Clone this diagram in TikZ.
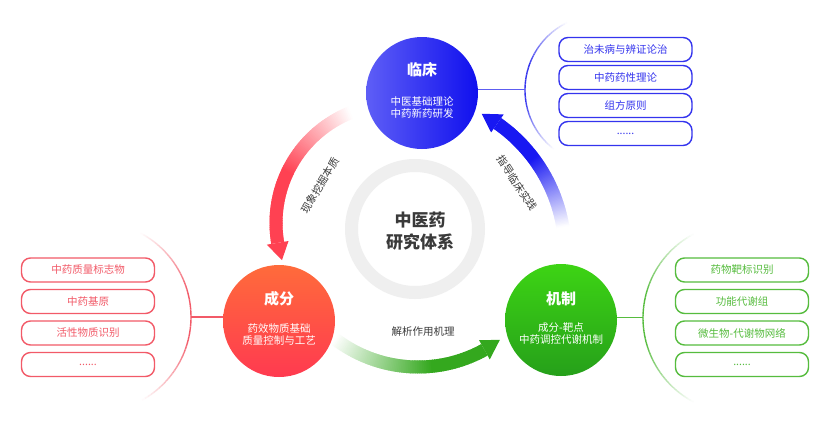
\documentclass[tikz,border=0pt]{standalone}
\usepackage{fontspec}
\newfontfamily\cjk{Noto Sans CJK SC}
\usetikzlibrary{calc}
\definecolor{blueA}{HTML}{5E5EF6}
\definecolor{blueB}{HTML}{1010EE}
\definecolor{redA}{HTML}{FF6B3B}
\definecolor{redB}{HTML}{FF3A50}
\definecolor{greenA}{HTML}{3DD414}
\definecolor{greenB}{HTML}{26A01A}
\definecolor{bbord}{HTML}{3434EE}
\definecolor{rbord}{HTML}{F25A68}
\definecolor{gbord}{HTML}{56BC3E}
\definecolor{barr}{HTML}{1818F2}
\definecolor{rarr}{HTML}{FF4152}
\definecolor{garr}{HTML}{34A81E}
\definecolor{ringc}{HTML}{EFEFEF}
\definecolor{txtc}{HTML}{3A3A3A}
\newcommand\gband[7]{%
  \foreach \i in {0,...,89}{%
    \pgfmathsetmacro\ta{#3+(#4-#3)*\i/90}%
    \pgfmathsetmacro\tb{#3+(#4-#3)*min(\i+1.6,90)/90}%
    \pgfmathsetmacro\pp{min(100,100*(\i+0.5)/(90*#7))}%
    \fill[#5!\pp!white] ($(#1)+(\ta:#2-#6)$) -- ($(#1)+(\ta:#2+#6)$) -- ($(#1)+(\tb:#2+#6)$) -- ($(#1)+(\tb:#2-#6)$) -- cycle;
  }}
\newcommand\sarc[5]{%
  \foreach \i in {0,...,59}{%
    \pgfmathsetmacro\ta{#3+(#4-#3)*\i/60}%
    \pgfmathsetmacro\tb{#3+(#4-#3)*(\i+1)/60}%
    \pgfmathsetmacro\pp{min(100,260*min((\i+0.5)/60,1-(\i+0.5)/60))}%
    \draw[#5!\pp!white, line width=1.4pt] ($(#1)+(\ta:#2)$) -- ($(#1)+(\tb:#2)$);
  }}
\tikzset{
  bbox/.style={draw=#1, line width=1.4pt, rounded corners=9pt, minimum width=133pt, minimum height=24pt, inner sep=0pt, text=#1, font=\cjk\fontsize{10.5}{12}\selectfont},
  ctitle/.style={text=white, font=\cjk\bfseries\fontsize{15}{18}\selectfont},
  csub/.style={text=white, font=\cjk\fontsize{10.5}{12}\selectfont, align=center, inner sep=0pt},
  lbl/.style={text=txtc, font=\cjk\fontsize{10.5}{12}\selectfont, inner sep=0pt},
  bigc/.style={circle, minimum size=112pt, inner sep=0pt, draw=none},
}
\begin{document}
\begin{tikzpicture}[x=1pt,y=-1pt]
\useasboundingbox (0,0) rectangle (830,432);
\fill[white] (0,0) rectangle (830,432);
% centres of arrow arcs
\coordinate (cR) at (395,223);
\coordinate (cB) at (407,253);
\coordinate (cG) at (418,230);
\coordinate (sB) at (600,90);
\coordinate (sR) at (96,317);
\coordinate (sG) at (738,318);
% centre ring
\node[circle, draw=ringc, line width=13pt, minimum size=127pt, inner sep=0pt] (ring) at (415,229) {};
\node[text=txtc, font=\cjk\bfseries\fontsize{17}{22}\selectfont, align=center] (core) at (420,231) {中医药\\研究体系};
% side arcs
\sarc{sB}{75}{128}{244}{bbord}
\sarc{sR}{95}{-62}{61}{rbord}
\sarc{sG}{95}{118}{242}{gbord}
% arrows
\gband{cR}{119}{248}{170.4}{rarr}{6.5}{0.55}
\fill[rarr] ($(cR)+(170.4:108)$) -- ($(cR)+(170.4:130)$) -- ($(cR)+(161.8:119)$) -- cycle;
\gband{cB}{158}{-9.5}{-55.1}{barr}{6.5}{0.6}
\fill[barr] ($(cB)+(-55.1:147)$) -- ($(cB)+(-55.1:169)$) -- ($(cB)+(-61.8:158)$) -- cycle;
\gband{cG}{137}{127.1}{61}{garr}{6.5}{0.65}
\fill[garr] ($(cG)+(61:126)$) -- ($(cG)+(61:148)$) -- ($(cG)+(53.3:137)$) -- cycle;
% arrow labels
\node[lbl, rotate=59] (l1) at (320,185) {现象挖掘本质};
\node[lbl, rotate=-57] (l2) at (517,183) {指导临床实践};
\node[lbl] (l3) at (423,332) {解析作用机理};
% main circles
\node[bigc, left color=blueA, right color=blueB] (lc) at (422,93) {};
\node[bigc, top color=redA, bottom color=redB] (cf) at (279,321) {};
\node[bigc, top color=greenA, bottom color=greenB] (jz) at (561,320) {};
\node[ctitle] (lct) at (422,70) {临床};
\node[csub] (lcs) at (422,108) {中医基础理论\\中药新药研发};
\node[ctitle] (cft) at (279,299) {成分};
\node[csub] (cfs) at (279,334) {药效物质基础\\质量控制与工艺};
\node[ctitle] (jzt) at (561,299) {机制};
\node[csub] (jzs) at (561,334) {成分-靶点\\中药调控代谢机制};
% connectors to side arcs
\coordinate (pB) at (525,89.5);
\coordinate (pR) at (191,317);
\coordinate (pG) at (643,317.5);
\draw[bbord!80!white, line width=1.3pt] (lc.east |- pB) -- (pB);
\draw[rbord, line width=1.3pt] (cf.west |- pR) -- (pR);
\draw[gbord, line width=1.3pt] (jz.east |- pG) -- (pG);
% boxes
\node[bbox=bbord] (b1) at (625.5,49.5) {治未病与辨证论治};
\node[bbox=bbord] (b2) at (625.5,77.5) {中药药性理论};
\node[bbox=bbord] (b3) at (625.5,105.5) {组方原则};
\node[bbox=bbord] (b4) at (625.5,133.5) {......};
\node[bbox=rbord] (r1) at (88,270) {中药质量标志物};
\node[bbox=rbord] (r2) at (88,301.5) {中药基原};
\node[bbox=rbord] (r3) at (88,333) {活性物质识别};
\node[bbox=rbord] (r4) at (88,364.5) {......};
\node[bbox=gbord] (g1) at (742,270) {药物靶标识别};
\node[bbox=gbord] (g2) at (742,301.5) {功能代谢组};
\node[bbox=gbord] (g3) at (742,333) {微生物-代谢物网络};
\node[bbox=gbord] (g4) at (742,364.5) {......};
\end{tikzpicture}
\end{document}
